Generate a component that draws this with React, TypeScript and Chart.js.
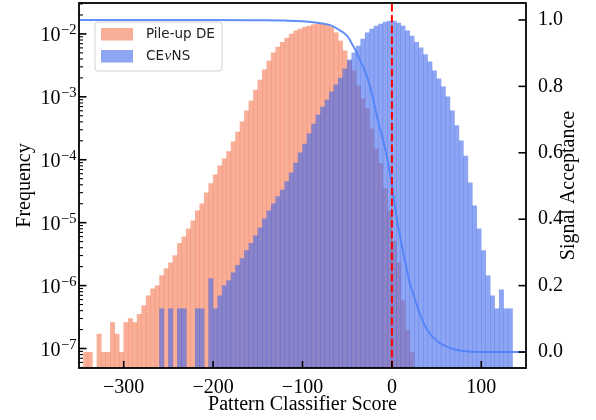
import React, { useEffect, useRef } from 'react';
import { Chart, registerables } from 'chart.js';

Chart.register(...registerables);

// ---------- data ----------
const BIN_WIDTH = 5;
const PILEUP_FIRST_CENTER = -347.5;
const pileupValues = [
  0, 8.7e-8, 8.7e-8, 0, 1.7e-7, 8.7e-8, 8.7e-8, 2.6e-7, 1.7e-7, 8.7e-8,
  2.6e-7, 3.0e-7, 2.6e-7, 3.5e-7, 4.8e-7, 6.9e-7, 8.9e-7, 1.0e-6, 1.44e-6, 1.86e-6,
  2.3e-6, 3.0e-6, 4.7e-6, 6.0e-6, 8.0e-6, 1.07e-5, 1.55e-5, 2.0e-5, 3.0e-5, 4.2e-5,
  5.8e-5, 8.0e-5, 1.04e-4, 1.35e-4, 1.94e-4, 2.77e-4, 4.0e-4, 6.0e-4, 8.7e-4, 1.29e-3,
  1.86e-3, 2.7e-3, 3.7e-3, 5.0e-3, 6.2e-3, 7.4e-3, 8.6e-3, 1.0e-2, 1.12e-2, 1.2e-2,
  1.29e-2, 1.34e-2, 1.41e-2, 1.44e-2, 1.44e-2, 1.39e-2, 1.29e-2, 1.04e-2, 7.7e-3, 5.4e-3,
  3.7e-3, 2.6e-3, 1.49e-3, 9.3e-4, 6.5e-4, 3.1e-4, 1.49e-4, 8.7e-5, 3.5e-5, 1.55e-5,
  5.1e-6, 2.3e-6, 5.8e-7, 1.95e-7, 8.7e-8,
];

const CEVNS_FIRST_CENTER = -257.5;
const cevnsValues = [
  4.3e-7, 0, 4.3e-7, 0, 4.3e-7, 4.3e-7, 0, 0, 4.3e-7, 4.3e-7,
  0, 1.3e-6, 4.3e-7, 6.9e-7, 1.0e-6, 1.2e-6, 1.6e-6, 2.1e-6, 2.7e-6, 3.6e-6,
  4.7e-6, 6.2e-6, 8.3e-6, 1.15e-5, 1.55e-5, 2.0e-5, 2.6e-5, 3.3e-5, 4.5e-5, 6.2e-5,
  8.9e-5, 1.29e-4, 1.78e-4, 2.6e-4, 3.7e-4, 5.2e-4, 6.9e-4, 8.9e-4, 1.2e-3, 1.55e-3,
  2.0e-3, 2.8e-3, 3.9e-3, 5.0e-3, 6.4e-3, 8.3e-3, 1.04e-2, 1.2e-2, 1.34e-2, 1.44e-2,
  1.55e-2, 1.61e-2, 1.61e-2, 1.49e-2, 1.34e-2, 1.12e-2, 9.3e-3, 7.4e-3, 6.0e-3, 4.7e-3,
  3.6e-3, 2.6e-3, 1.94e-3, 1.44e-3, 1.0e-3, 6.0e-4, 3.5e-4, 2.0e-4, 1.15e-4, 4.3e-5,
  1.86e-5, 8.0e-6, 3.6e-6, 1.44e-6, 6.9e-7, 4.3e-7, 8.6e-7, 4.3e-7, 4.3e-7,
];

const acceptanceX = [
  -350, -200, -150, -120, -100, -80, -70, -60, -50, -45, -40, -35, -30, -25, -20, -15, -10, -5,
  0, 5, 10, 15, 20, 25, 30, 35, 40, 45, 50, 55, 60, 70, 80, 90, 100, 150,
];
const acceptanceY = [
  1.0, 1.0, 0.999, 0.998, 0.996, 0.99, 0.985, 0.972, 0.952, 0.93, 0.905, 0.875, 0.845, 0.805, 0.75, 0.69, 0.64, 0.58,
  0.5, 0.41, 0.335, 0.27, 0.208, 0.165, 0.125, 0.09, 0.065, 0.047, 0.035, 0.025, 0.018, 0.008, 0.003, 0.001, 0.0, 0.0,
];

const THRESHOLD = 0;
const xTicks = [-300, -200, -100, 0, 100];
const accTicks = [0, 0.2, 0.4, 0.6, 0.8, 1.0];
const logTickExponents = [-7, -6, -5, -4, -3, -2];

const X_MIN = -350;
const X_MAX = 150;
const Y_MIN = 4.9e-8;
const Y_MAX = 3.1e-2;
const Y1_MIN = -0.048;
const Y1_MAX = 1.051;

const LABEL_PILEUP = 'Pile-up DE';
const LABEL_CEVNS = 'CEνNS';

const COLOR_PILEUP = 'rgba(245,110,70,0.56)';
const COLOR_CEVNS = 'rgba(65,105,235,0.6)';
const COLOR_ACC = 'rgba(80,130,248,0.9)';

const SERIF = "'Liberation Serif', 'Times New Roman', serif";
const SANS = "'DejaVu Sans', sans-serif";

const toBins = (first: number, vals: number[]) =>
  vals.map((v, i) => ({ x: first + i * BIN_WIDTH, y: v }));

const fmtX = (v: number) => (v < 0 ? '\u2212' + Math.abs(v) : String(v));

const overlayPlugin = {
  id: 'overlay',
  afterDatasetsDraw(chart: any) {
    const { ctx, chartArea: a, scales } = chart;
    const px = scales.x.getPixelForValue(THRESHOLD);
    ctx.save();
    ctx.beginPath();
    ctx.rect(a.left, a.top, a.right - a.left, a.bottom - a.top);
    ctx.clip();
    ctx.strokeStyle = '#ff0000';
    ctx.lineWidth = 2;
    ctx.setLineDash([7.5, 3.3]);
    ctx.beginPath();
    ctx.moveTo(px, a.bottom);
    ctx.lineTo(px, a.top);
    ctx.stroke();
    ctx.restore();
  },
  afterDraw(chart: any) {
    const { ctx, chartArea: a, scales } = chart;
    const xs = scales.x;
    const ys = scales.y;
    const y1 = scales.y1;
    ctx.save();
    ctx.strokeStyle = '#000';
    // x ticks (inward)
    ctx.lineWidth = 1.6;
    for (const v of xTicks) {
      const p = xs.getPixelForValue(v);
      ctx.beginPath();
      ctx.moveTo(p, a.bottom);
      ctx.lineTo(p, a.bottom - 7);
      ctx.stroke();
    }
    // log ticks
    for (let e = -9; e <= -1; e++) {
      for (let m = 1; m <= 9; m++) {
        const v = m * Math.pow(10, e);
        if (v < ys.min || v > ys.max) continue;
        const p = ys.getPixelForValue(v);
        ctx.lineWidth = m === 1 ? 1.6 : 1.1;
        const len = m === 1 ? 7.5 : 4;
        ctx.beginPath();
        ctx.moveTo(a.left, p);
        ctx.lineTo(a.left + len, p);
        ctx.stroke();
      }
    }
    // right ticks
    ctx.lineWidth = 1.6;
    for (const v of accTicks) {
      const p = y1.getPixelForValue(v);
      ctx.beginPath();
      ctx.moveTo(a.right, p);
      ctx.lineTo(a.right - 7.5, p);
      ctx.stroke();
    }
    // frame
    ctx.lineWidth = 1.8;
    ctx.strokeRect(a.left, a.top, a.right - a.left, a.bottom - a.top);

    // log tick labels 10^e
    ctx.fillStyle = '#000';
    ctx.textBaseline = 'alphabetic';
    ctx.textAlign = 'left';
    for (const e of logTickExponents) {
      const p = ys.getPixelForValue(Math.pow(10, e));
      const base = '10';
      const exp = '\u2212' + Math.abs(e);
      ctx.font = `20px ${SERIF}`;
      const w1 = ctx.measureText(base).width;
      ctx.font = `14.5px ${SERIF}`;
      const w2 = ctx.measureText(exp).width;
      const x0 = a.left - 3 - w1 - w2;
      ctx.font = `20px ${SERIF}`;
      ctx.fillText(base, x0, p + 7);
      ctx.font = `14.5px ${SERIF}`;
      ctx.fillText(exp, x0 + w1 + 0.5, p + 0.5);
    }

    // right axis title (reads bottom to top)
    ctx.save();
    ctx.translate(569, (a.top + a.bottom) / 2);
    ctx.rotate(-Math.PI / 2);
    ctx.font = `20px ${SERIF}`;
    ctx.textAlign = 'center';
    ctx.textBaseline = 'middle';
    ctx.fillText('Signal Acceptance', 0, 0);
    ctx.restore();

    // legend
    const lx = a.left + 16;
    const ly = a.top + 19;
    const lw = 127;
    const lh = 49;
    ctx.beginPath();
    const r = 3;
    ctx.moveTo(lx + r, ly);
    ctx.lineTo(lx + lw - r, ly);
    ctx.arcTo(lx + lw, ly, lx + lw, ly + r, r);
    ctx.lineTo(lx + lw, ly + lh - r);
    ctx.arcTo(lx + lw, ly + lh, lx + lw - r, ly + lh, r);
    ctx.lineTo(lx + r, ly + lh);
    ctx.arcTo(lx, ly + lh, lx, ly + lh - r, r);
    ctx.lineTo(lx, ly + r);
    ctx.arcTo(lx, ly, lx + r, ly, r);
    ctx.closePath();
    ctx.fillStyle = 'rgba(255,255,255,0.8)';
    ctx.fill();
    ctx.strokeStyle = '#d0d0d0';
    ctx.lineWidth = 1;
    ctx.stroke();

    const entries = chart.data.datasets.filter((d: any) => d.type === 'bar').reverse();
    entries.forEach((d: any, i: number) => {
      const rowY = ly + 12 + i * 22;
      ctx.fillStyle = d.backgroundColor;
      ctx.fillRect(lx + 6, rowY - 6, 32, 12.5);
      ctx.fillStyle = '#222';
      ctx.textBaseline = 'middle';
      ctx.textAlign = 'left';
      let tx = lx + 51;
      const parts = String(d.label).split('ν');
      parts.forEach((part: string, k: number) => {
        ctx.font = `13.5px ${SANS}`;
        ctx.fillText(part, tx, rowY + 0.5);
        tx += ctx.measureText(part).width;
        if (k < parts.length - 1) {
          ctx.font = `italic 15px ${SERIF}`;
          ctx.fillText('ν', tx + 0.5, rowY + 0.5);
          tx += ctx.measureText('ν').width + 1;
        }
      });
    });
    ctx.restore();
  },
};

export default function App() {
  const ref = useRef<HTMLCanvasElement>(null);
  useEffect(() => {
    const canvas = ref.current;
    if (!canvas) return;
    const chart = new Chart(canvas, {
      type: 'bar',
      data: {
        datasets: [
          {
            type: 'line',
            label: 'Signal Acceptance',
            data: acceptanceX.map((x, i) => ({ x, y: acceptanceY[i] })),
            yAxisID: 'y1',
            xAxisID: 'x',
            borderColor: COLOR_ACC,
            borderWidth: 2,
            pointRadius: 0,
            fill: false,
            cubicInterpolationMode: 'monotone',
            order: 0,
          } as any,
          {
            type: 'bar',
            label: LABEL_CEVNS,
            data: toBins(CEVNS_FIRST_CENTER, cevnsValues),
            yAxisID: 'y',
            xAxisID: 'x',
            backgroundColor: COLOR_CEVNS,
            borderWidth: 0,
            inflateAmount: 0.25,
            barPercentage: 1,
            categoryPercentage: 1,
            grouped: false,
            order: 1,
          } as any,
          {
            type: 'bar',
            label: LABEL_PILEUP,
            data: toBins(PILEUP_FIRST_CENTER, pileupValues),
            yAxisID: 'y',
            xAxisID: 'x',
            backgroundColor: COLOR_PILEUP,
            borderWidth: 0,
            inflateAmount: 0.25,
            barPercentage: 1,
            categoryPercentage: 1,
            grouped: false,
            order: 2,
          } as any,
        ],
      },
      options: {
        responsive: false,
        animation: false,
        layout: { padding: { top: 3, left: 0, right: 0, bottom: 0 } },
        plugins: { legend: { display: false }, tooltip: { enabled: false } },
        scales: {
          x: {
            type: 'linear',
            min: X_MIN,
            max: X_MAX,
            offset: false,
            grid: { display: false },
            border: { display: false },
            afterBuildTicks: (s: any) => {
              s.ticks = xTicks.map((v) => ({ value: v }));
            },
            ticks: {
              callback: (v: any) => fmtX(Number(v)),
              font: { family: SERIF, size: 20 },
              color: '#000',
              padding: 0,
              maxRotation: 0,
              autoSkip: false,
            },
            title: {
              display: true,
              text: 'Pattern Classifier Score',
              font: { family: SERIF, size: 20 },
              color: '#000',
              padding: { top: 0, bottom: 3 },
            },
            afterFit: (s: any) => {
              s.height = 52;
              s.paddingLeft = 0;
              s.paddingRight = 0;
            },
          },
          y: {
            type: 'logarithmic',
            position: 'left',
            min: Y_MIN,
            max: Y_MAX,
            grid: { display: false },
            border: { display: false },
            ticks: { display: false },
            title: {
              display: true,
              text: 'Frequency',
              font: { family: SERIF, size: 20 },
              color: '#000',
              padding: { top: 13, bottom: 0 },
            },
            afterFit: (s: any) => {
              s.width = 79;
              s.paddingTop = 0;
              s.paddingBottom = 0;
            },
          },
          y1: {
            type: 'linear',
            position: 'right',
            min: Y1_MIN,
            max: Y1_MAX,
            grid: { display: false },
            border: { display: false },
            afterBuildTicks: (s: any) => {
              s.ticks = accTicks.map((v) => ({ value: v }));
            },
            ticks: {
              callback: (v: any) => Number(v).toFixed(1),
              font: { family: SERIF, size: 20 },
              color: '#000',
              padding: 4,
            },
            afterFit: (s: any) => {
              s.width = 70;
              s.paddingTop = 0;
              s.paddingBottom = 0;
            },
          },
        },
      } as any,
      plugins: [overlayPlugin],
    });
    return () => chart.destroy();
  }, []);

  return (
    <div style={{ position: 'fixed', left: 0, top: 0, width: 596, height: 420, background: '#fff' }}>
      <canvas ref={ref} width={596} height={420} style={{ width: 596, height: 420, display: 'block' }} />
    </div>
  );
}
